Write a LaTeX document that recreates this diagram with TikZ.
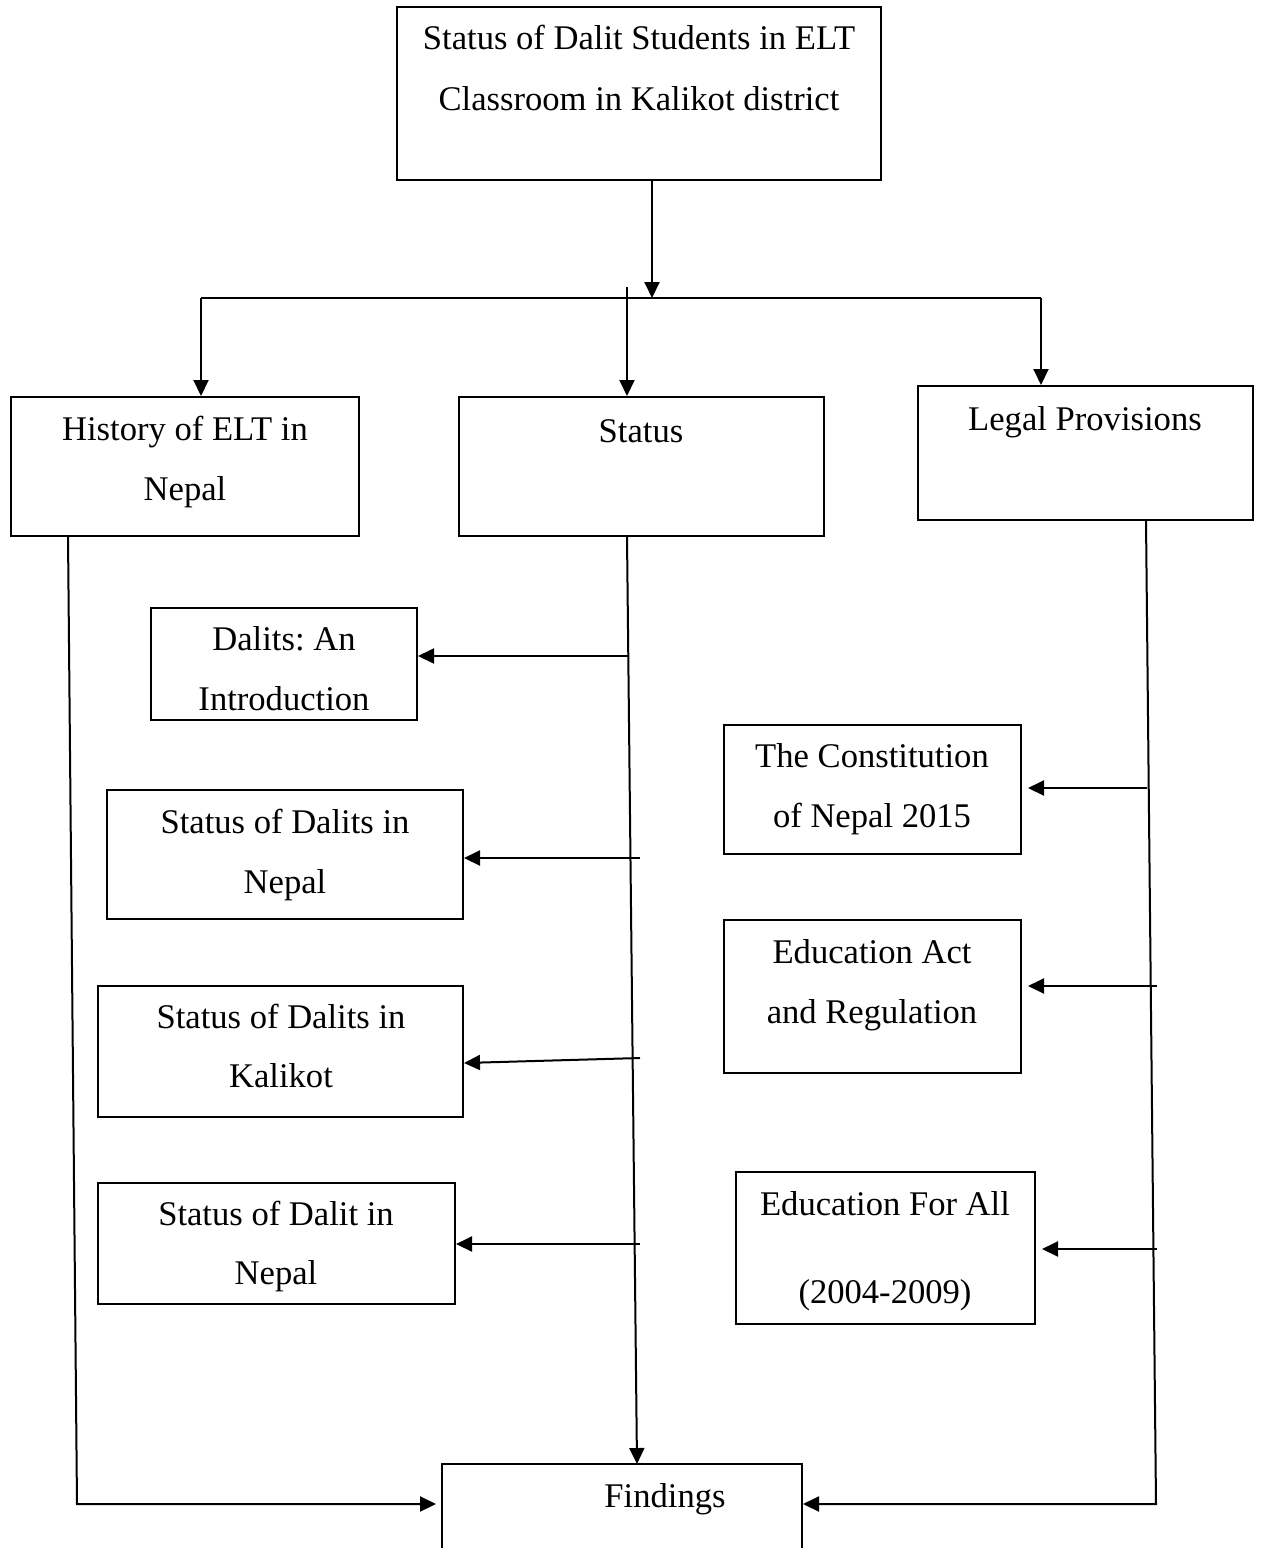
\documentclass[tikz,border=0pt]{standalone}
\usepackage{fontspec}
\setmainfont{Liberation Serif}
\usetikzlibrary{arrows.meta,fit,calc}
\begin{document}
\begin{tikzpicture}[x=0.5pt,y=-0.5pt,
  box/.style={draw,line width=1pt,inner sep=0pt,rectangle},
  txt/.style={inner sep=0pt,anchor=base,font=\frenchspacing\fontsize{17.3}{20}\selectfont},
  conn/.style={line width=1pt},
  arr/.style={line width=1pt,-{Triangle[length=8pt,width=7.5pt]}}]
\clip (0,0) rectangle (1262,1548);
\fill[white] (0,0) rectangle (1262,1548);
% boxes
\node[box,fit={(397,7)(881,180)}] (top) {};
\node[box,fit={(11,397)(359,536)}] (hist) {};
\node[box,fit={(459,397)(824,536)}] (stat) {};
\node[box,fit={(918,386)(1253,520)}] (legal) {};
\node[box,fit={(151,608)(417,720)}] (intro) {};
\node[box,fit={(107,790)(463,919)}] (snep) {};
\node[box,fit={(98,986)(463,1117)}] (skal) {};
\node[box,fit={(98,1183)(455,1304)}] (sdn) {};
\node[box,fit={(724,725)(1021,854)}] (con) {};
\node[box,fit={(724,920)(1021,1073)}] (edu) {};
\node[box,fit={(736,1172)(1035,1324)}] (efa) {};
\node[box,fit={(442,1464)(802,1620)}] (find) {};
% texts
\node[txt] (t1) at (639,49) {Status of Dalit Students in ELT};
\node[txt] (t2) at (639,110) {Classroom in Kalikot district};
\node[txt] (h1) at (185,440) {History of ELT in};
\node[txt] (h2) at (185,500) {Nepal};
\node[txt] (s1) at (641,442) {Status};
\node[txt] (l1) at (1085,430) {Legal Provisions};
\node[txt] (i1) at (284,650) {Dalits: An};
\node[txt] (i2) at (284,710) {Introduction};
\node[txt] (n1) at (285,833) {Status of Dalits in};
\node[txt] (n2) at (285,893) {Nepal};
\node[txt] (k1) at (281,1028) {Status of Dalits in};
\node[txt] (k2) at (281,1087) {Kalikot};
\node[txt] (d1) at (276,1225) {Status of Dalit in};
\node[txt] (d2) at (276,1284) {Nepal};
\node[txt] (c1) at (872,767) {The Constitution};
\node[txt] (c2) at (872,827) {of Nepal 2015};
\node[txt] (e1) at (872,963) {Education Act};
\node[txt] (e2) at (872,1023) {and Regulation};
\node[txt] (f1) at (885,1215) {Education For All};
\node[txt] (f2) at (885,1303) {(2004-2009)};
\node[txt] (g1) at (665,1507) {Findings};
% top connectors
\coordinate (j) at (652,298);
\coordinate (bl) at (201,298);
\coordinate (br) at (1041,298);
\coordinate (tk) at (627,287);
\draw[arr] (top.south -| j) -- (j);
\draw[conn] (bl) -- (br);
\draw[arr] (bl) -- (bl |- hist.north);
\draw[arr] (br) -- (br |- legal.north);
\draw[arr] (tk) -- (tk |- stat.north);
% status spine
\coordinate (se) at (637,1464);
\draw[arr] (tk |- stat.south) -- (se);
% history line
\coordinate (hb) at (68,536);
\coordinate (hc) at (77,1504);
\draw[arr] (hb) -- (hc) -- ($(hc -| find.west)+(-5,0)$);
% legal line
\coordinate (lb) at (1146,520);
\coordinate (lc) at (1156,1504);
\draw[arr] (lb) -- (lc) -- (lc -| find.east);
% left branch arrows
\coordinate (a1) at (628.3,656);
\coordinate (a2) at (640,858);
\coordinate (a3) at (640,1058);
\coordinate (a4) at (640,1244);
\draw[arr] (a1) -- (a1 -| intro.east);
\draw[arr] (a2) -- (a2 -| snep.east);
\draw[arr] (a3) -- ($(a3 -| skal.east)+(0,5)$);
\draw[arr] (a4) -- (a4 -| sdn.east);
% right branch arrows
\coordinate (b1) at (1147,788);
\coordinate (b2) at (1157,986);
\coordinate (b3) at (1157,1249);
\draw[arr] (b1) -- ($(b1 -| con.east)+(6,0)$);
\draw[arr] (b2) -- ($(b2 -| edu.east)+(6,0)$);
\draw[arr] (b3) -- ($(b3 -| efa.east)+(6,0)$);
\end{tikzpicture}
\end{document}
